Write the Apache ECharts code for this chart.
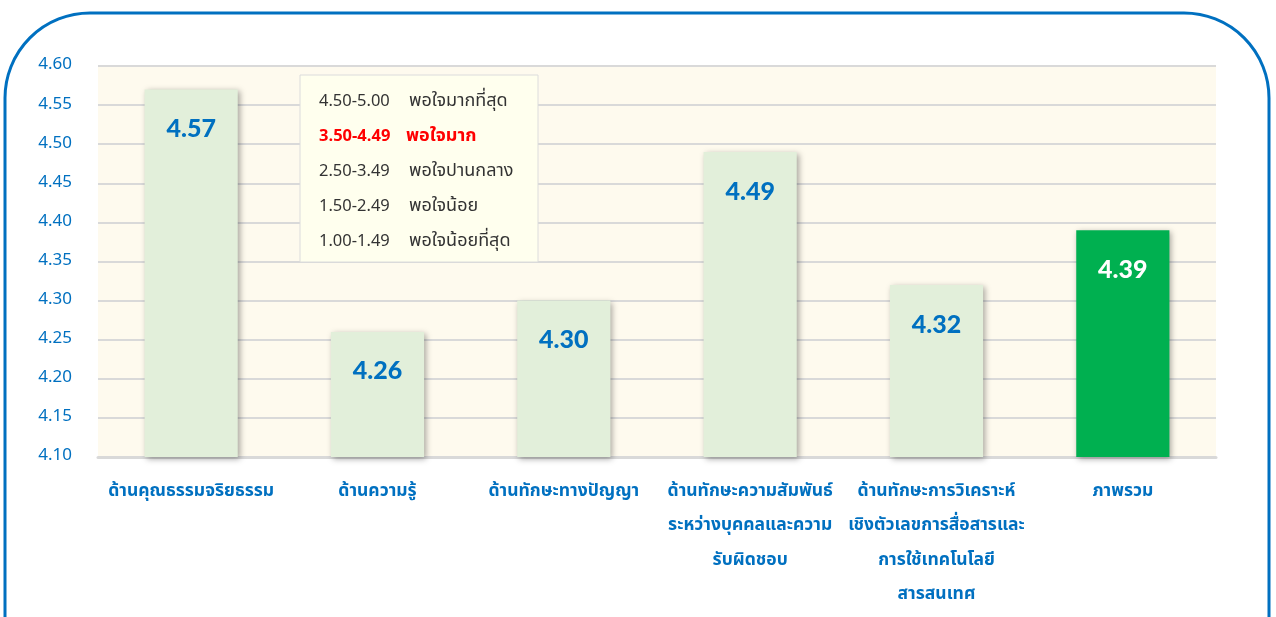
<!DOCTYPE html>
<html><head><meta charset="utf-8">
<script src="https://cdn.jsdelivr.net/npm/echarts@6/dist/echarts.min.js"></script>
<style>html,body{margin:0;padding:0;background:#fff}#c{width:1276px;height:617px}</style>
</head><body><div id="c"></div>
<script>
const categories = [
  'ด้านคุณธรรมจริยธรรม',
  'ด้านความรู้',
  'ด้านทักษะทางปัญญา',
  'ด้านทักษะความสัมพันธ์\nระหว่างบุคคลและความ\nรับผิดชอบ',
  'ด้านทักษะการวิเคราะห์\nเชิงตัวเลขการสื่อสารและ\nการใช้เทคโนโลยี\nสารสนเทศ',
  'ภาพรวม'
];
const values = [4.57, 4.26, 4.30, 4.49, 4.32, 4.39];
const legendRanges = ['4.50-5.00', '3.50-4.49', '2.50-3.49', '1.50-2.49', '1.00-1.49'];
const legendLevels = ['พอใจมากที่สุด', 'พอใจมาก', 'พอใจปานกลาง', 'พอใจน้อย', 'พอใจน้อยที่สุด'];
const highlightRow = 1;

const FONT = 'Tahoma, "Noto Sans Thai", "Noto Sans", "DejaVu Sans", sans-serif';
const chart = echarts.init(document.getElementById('c'));

const legendText = legendRanges.map((r, i) => {
  const s = i === highlightRow ? 'h' : 'n';
  return '{' + s + 'r|' + r + '}{' + s + 'l|' + legendLevels[i] + '}';
}).join('\n');

chart.setOption({
  animation: false,
  grid: { left: 98, right: 60, top: 66, bottom: 160, show: true, backgroundColor: '#FEFAEE', borderWidth: 0 },
  xAxis: {
    type: 'category', data: categories,
    axisLine: { lineStyle: { color: '#D9D9D9', width: 3 } },
    axisTick: { show: false },
    axisLabel: { color: '#0070C0', fontSize: 17.5, fontWeight: 'bold', fontFamily: FONT, lineHeight: 34.5, margin: 18, interval: 0 }
  },
  yAxis: {
    type: 'value', min: 4.1, max: 4.6, interval: 0.05,
    axisLine: { show: false }, axisTick: { show: false },
    axisLabel: { color: '#0070C0', fontSize: 17, fontFamily: FONT, margin: 26, formatter: v => v.toFixed(2) },
    splitLine: { lineStyle: { color: '#D9D9D9', width: 2 } }
  },
  series: [{
    type: 'bar', barWidth: '50%',
    data: values.map((v, i) => i === values.length - 1
      ? { value: v, itemStyle: { color: '#00B050' }, label: { color: '#ffffff' } }
      : v),
    itemStyle: { color: '#E2EFDA', shadowBlur: 6, shadowColor: 'rgba(0,0,0,0.35)', shadowOffsetX: 2, shadowOffsetY: 2 },
    label: {
      show: true, position: 'insideTop', distance: 27,
      color: '#0070C0', fontSize: 25, fontWeight: 900,
      fontFamily: '"Comic Sans MS", "Lato", "Open Sans", sans-serif',
      formatter: p => p.value.toFixed(2)
    }
  }],
  graphic: [
    {
      type: 'rect', z: 100, silent: true,
      shape: { x: 5, y: 13, width: 1264, height: 720, r: 85 },
      style: { fill: 'none', stroke: '#0070C0', lineWidth: 3 }
    },
    {
      type: 'rect', z: 50,
      shape: { x: 300, y: 75, width: 238, height: 187 },
      style: { fill: '#FFFFEE', stroke: '#DCDCDC', lineWidth: 1 }
    },
    {
      type: 'text', z: 51, left: 319, top: 85,
      style: {
        text: legendText, fontFamily: FONT, fontSize: 16, lineHeight: 35,
        rich: {
          nr: { fill: '#333333', fontSize: 16.5, width: 90, fontFamily: FONT, lineHeight: 35 },
          nl: { fill: '#333333', fontSize: 18, fontFamily: FONT, lineHeight: 35 },
          hr: { fill: '#FF0000', fontSize: 16.5, fontWeight: 'bold', width: 87, fontFamily: FONT, lineHeight: 35 },
          hl: { fill: '#FF0000', fontSize: 18, fontWeight: 'bold', fontFamily: FONT, lineHeight: 35 }
        }
      }
    }
  ]
});
</script></body></html>
